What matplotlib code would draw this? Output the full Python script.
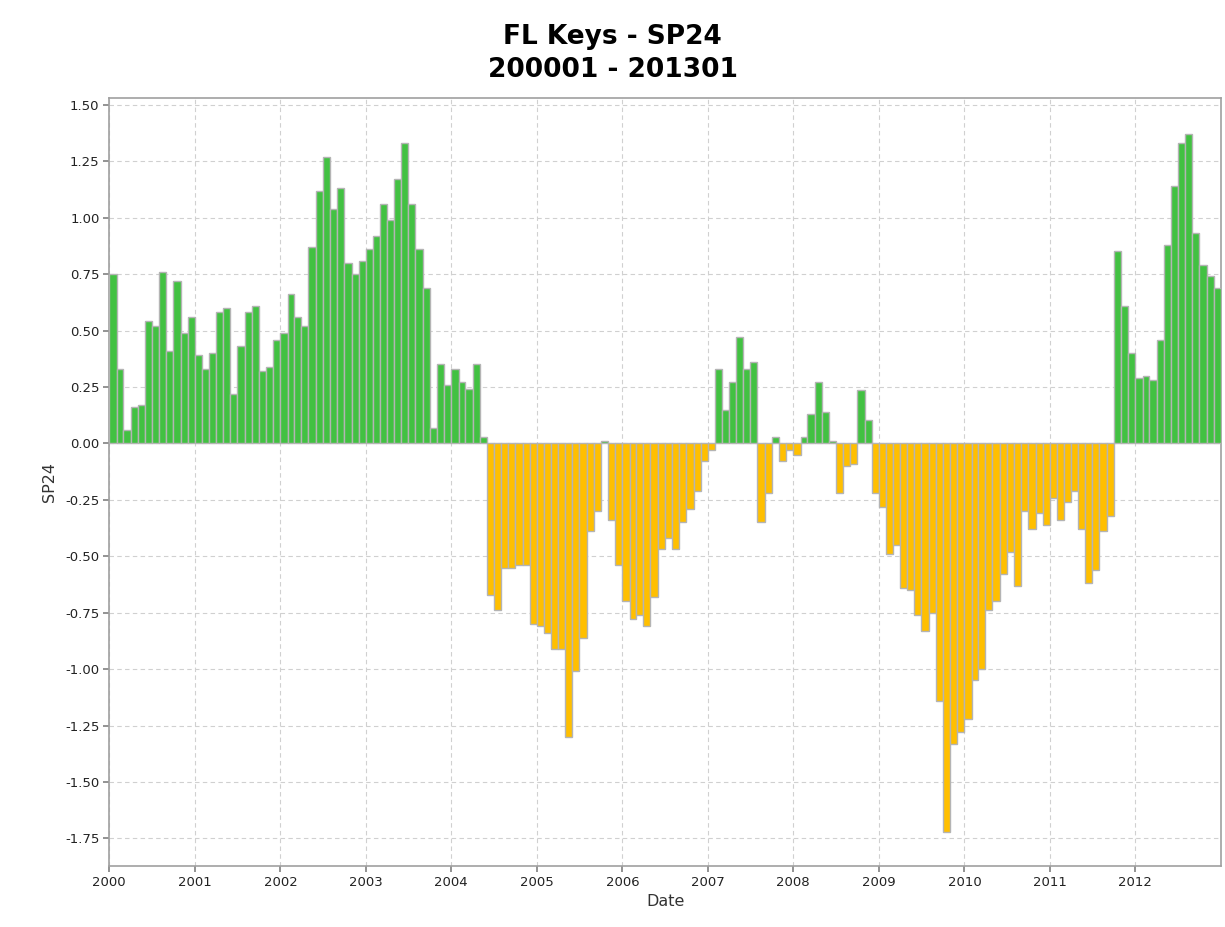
import numpy as np
import pandas as pd
import matplotlib
matplotlib.use("Agg")
import matplotlib.pyplot as plt
import matplotlib.dates as mdates

# monthly SP24 values, 2000-01 .. 2012-12
sp24_2000 = [0.75, 0.33, 0.06, 0.16, 0.17, 0.54, 0.52, 0.76, 0.41, 0.72, 0.49, 0.56]
sp24_2001 = [0.39, 0.33, 0.40, 0.58, 0.60, 0.22, 0.43, 0.58, 0.61, 0.32, 0.34, 0.46]
sp24_2002 = [0.49, 0.66, 0.56, 0.52, 0.87, 1.12, 1.27, 1.04, 1.13, 0.80, 0.75, 0.81]
sp24_2003 = [0.86, 0.92, 1.06, 0.99, 1.17, 1.33, 1.06, 0.86, 0.69, 0.07, 0.35, 0.26]
sp24_2004 = [0.33, 0.27, 0.24, 0.35, 0.03, -0.67, -0.74, -0.55, -0.55, -0.54, -0.54, -0.80]
sp24_2005 = [-0.81, -0.84, -0.91, -0.91, -1.30, -1.01, -0.86, -0.39, -0.30, 0.01, -0.34, -0.54]
sp24_2006 = [-0.70, -0.78, -0.76, -0.81, -0.68, -0.47, -0.42, -0.47, -0.35, -0.29, -0.21, -0.08]
sp24_2007 = [-0.03, 0.33, 0.15, 0.27, 0.47, 0.33, 0.36, -0.35, -0.22, 0.03, -0.08, -0.03]
sp24_2008 = [-0.05, 0.03, 0.13, 0.27, 0.14, 0.01, -0.22, -0.10, -0.09, 0.235, 0.105, -0.22]
sp24_2009 = [-0.28, -0.49, -0.45, -0.64, -0.65, -0.76, -0.83, -0.75, -1.14, -1.72, -1.33, -1.28]
sp24_2010 = [-1.22, -1.05, -1.00, -0.74, -0.70, -0.58, -0.48, -0.63, -0.30, -0.38, -0.31, -0.36]
sp24_2011 = [-0.24, -0.34, -0.26, -0.21, -0.38, -0.62, -0.56, -0.39, -0.32, 0.85, 0.61, 0.40]
sp24_2012 = [0.29, 0.30, 0.28, 0.46, 0.88, 1.14, 1.33, 1.37, 0.93, 0.79, 0.74, 0.69]

values = np.array(sp24_2000 + sp24_2001 + sp24_2002 + sp24_2003 + sp24_2004
                  + sp24_2005 + sp24_2006 + sp24_2007 + sp24_2008 + sp24_2009
                  + sp24_2010 + sp24_2011 + sp24_2012)
months = pd.date_range("2000-01-01", periods=len(values), freq="MS")
month_ends = months + pd.offsets.MonthBegin(1)
widths = (month_ends - months).days

year_ticks = pd.date_range("2000-01-01", "2012-01-01", freq="YS")
y_ticks = [1.5, 1.25, 1.0, 0.75, 0.5, 0.25, 0.0, -0.25, -0.5, -0.75, -1.0, -1.25, -1.5, -1.75]

green = "#42c142"
orange = "#ffbf00"
colors = [green if v >= 0 else orange for v in values]

fig = plt.figure(figsize=(12.25, 9.27), dpi=100)
ax = fig.add_axes([0.0892, 0.0658, 0.9075, 0.8285])

ax.bar(months, values, width=widths, align="edge", color=colors,
       edgecolor="#b4b4b4", linewidth=1.0, zorder=3)

ax.set_xlim(pd.Timestamp("2000-01-01"), pd.Timestamp("2013-01-01"))
ax.set_ylim(-1.872, 1.53)
ax.set_yticks(y_ticks)
ax.set_yticklabels([f"{t:.2f}" for t in y_ticks])
ax.set_xticks(year_ticks)
ax.xaxis.set_major_formatter(mdates.DateFormatter("%Y"))

ax.grid(True, color="#d0d0d0", linestyle=(0, (4, 3)), linewidth=0.8, zorder=0)
for s in ax.spines.values():
    s.set_color("#a0a0a0")
    s.set_linewidth(1.2)
ax.tick_params(axis="both", length=4, width=1.2, color="#808080",
               labelsize=9.5, labelcolor="#222222", pad=3)

ax.set_xlabel("Date", fontsize=11.5, color="#333333", labelpad=4)
ax.set_ylabel("SP24", fontsize=11.5, color="#333333", labelpad=6)

fig.text(0.5, 0.960, "FL Keys - SP24", ha="center", va="center",
         fontsize=19, fontweight="bold")
fig.text(0.5, 0.925, "200001 - 201301", ha="center", va="center",
         fontsize=19, fontweight="bold")

fig.savefig("out.png", dpi=100)
